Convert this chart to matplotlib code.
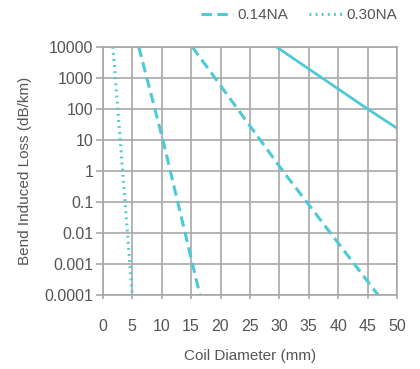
import numpy as np
import matplotlib as mpl
mpl.use('Agg')
import matplotlib.pyplot as plt
from matplotlib.lines import Line2D

plt.rcParams['font.family'] = ['Liberation Sans', 'DejaVu Sans']

# --- curves (coil diameter in mm, loss in dB/km)
d_solid = [29.5, 45.0, 50.0]
l_solid = [1e4, 1e2, 24]

d_dash_a = [6.1, 10.2, 16.5]
l_dash_a = [1e4, 10, 1e-4]

d_dash_b = [15.2, 30.6, 46.8]
l_dash_b = [1e4, 1, 1e-4]

d_dot = [1.7, 5.0]
l_dot = [1e4, 1e-4]

xticks = np.arange(0, 51, 5)
yticks = [1e-4, 1e-3, 1e-2, 1e-1, 1, 10, 100, 1000, 10000]
ylabels = ['0.0001', '0.001', '0.01', '0.1', '1', '10', '100', '1000', '10000']

c = '#4ec9d6'
grid_c = '#a8a8a8'
txt = '#555555'
dash = (3.4, 1.8)
dot = (0.6, 1.4)

fig = plt.figure(figsize=(4.2, 3.69), dpi=100)
ax = fig.add_axes([0.245, 0.2005, 0.7, 0.6725])

ax.plot(d_solid, l_solid, c=c, lw=2)
ax.plot(d_dash_a, l_dash_a, c=c, lw=2.2, dashes=dash)
ax.plot(d_dash_b, l_dash_b, c=c, lw=2.2, dashes=dash)
ax.plot(d_dot, l_dot, c=c, lw=2.2, dashes=dot)

ax.set_yscale('log')
ax.set_xlim(0, 50)
ax.set_ylim(1e-4, 1e4)
ax.set_xticks(xticks)
ax.set_yticks(yticks)
ax.set_yticklabels(ylabels)
ax.minorticks_off()
ax.grid(True, color=grid_c, lw=1.2)
for s in ax.spines.values():
    s.set_color(grid_c)
    s.set_linewidth(1.2)
ax.tick_params(axis='y', colors=grid_c, labelcolor=txt, labelsize=11.5, length=5, width=1.2, pad=2)
ax.tick_params(axis='x', colors=grid_c, labelcolor=txt, labelsize=11.5, length=3, width=1.2, pad=14)

ax.set_xlabel('Coil Diameter (mm)', color=txt, fontsize=11, labelpad=11)
ax.set_ylabel('Bend Induced Loss (dB/km)', color=txt, fontsize=11, labelpad=9)

handles = [Line2D([], [], c=c, lw=2.2, dashes=dash),
           Line2D([], [], c=c, lw=2.2, dashes=dot)]
fig.legend(handles, ['0.14NA', '0.30NA'], loc='center right', bbox_to_anchor=(0.945, 0.958),
           ncol=2, frameon=False, fontsize=11, labelcolor=txt, handlelength=2.1,
           handletextpad=0.3, columnspacing=1.4, borderpad=0, borderaxespad=0)

fig.savefig('out.png', dpi=100)
